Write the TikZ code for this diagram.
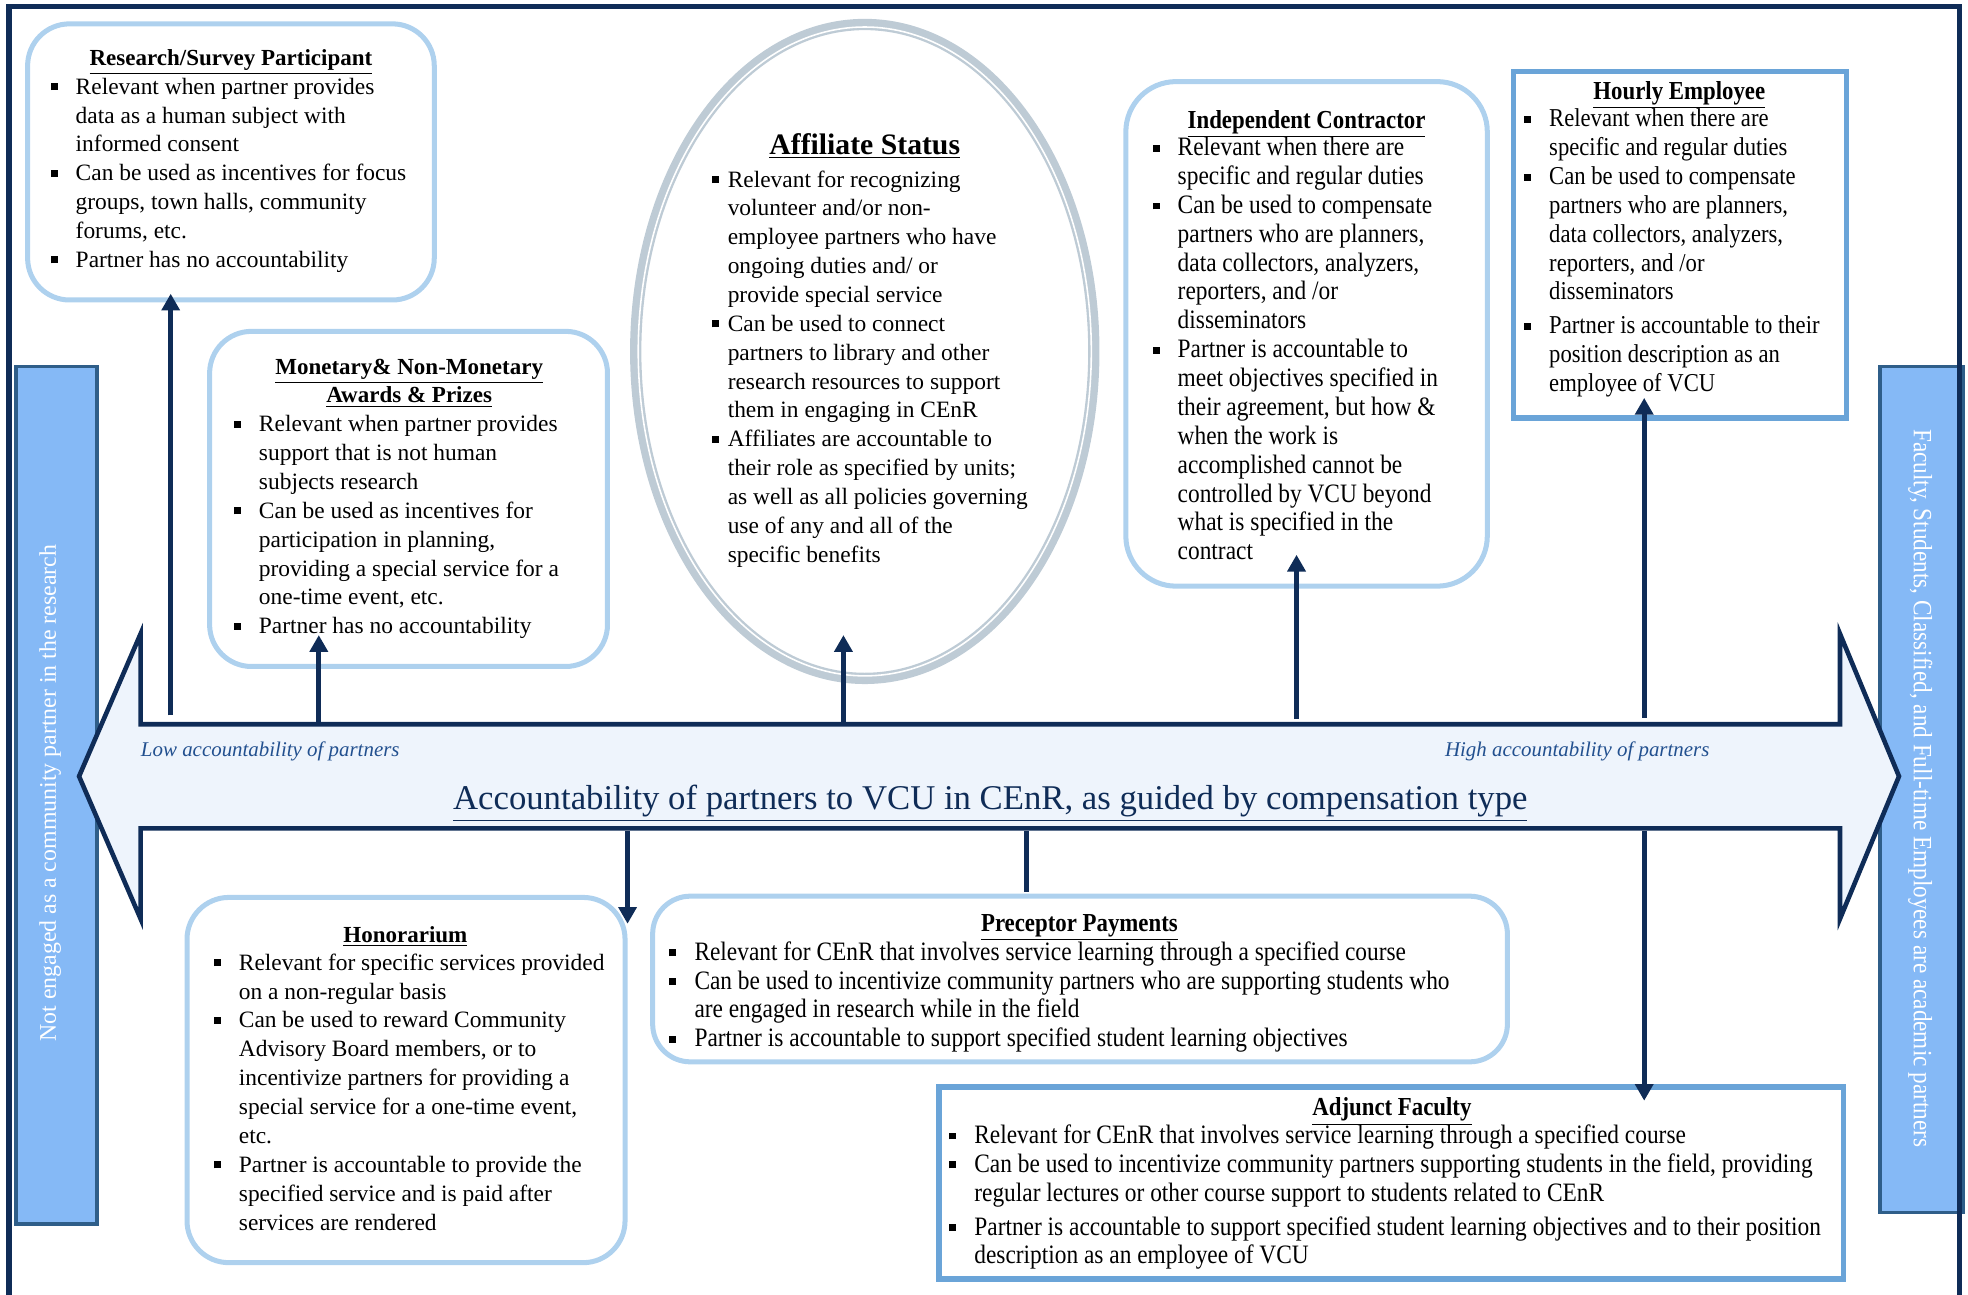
\documentclass[tikz,border=0pt]{standalone}
\usepackage{fontspec}
\setmainfont{Liberation Serif}
\newfontfamily\condfont[FakeStretch=0.88]{Liberation Serif}
\usetikzlibrary{arrows.meta,shapes.geometric}
\definecolor{navy}{HTML}{0F2C57}
\definecolor{boxblue}{HTML}{AED1EE}
\definecolor{sqblue}{HTML}{6AA4D8}
\definecolor{barfill}{HTML}{85B9F6}
\definecolor{barline}{HTML}{2F5E89}
\definecolor{arrowfill}{HTML}{EEF4FC}
\definecolor{ellgray}{HTML}{BECBD5}
\definecolor{labblue}{HTML}{22508F}
\newcommand\bul{\makebox[12pt][l]{\rule[1.9pt]{3.3pt}{3.3pt}}}
\newcommand\ind{\hspace*{12pt}}
\newcommand\bula{\makebox[7.5pt][l]{\rule[1.9pt]{3.3pt}{3.3pt}}}
\newcommand\inda{\hspace*{7.5pt}}
\newcommand\mkbox[6]{\node[#2, minimum width={(#5-#3-4)*0.6pt}, minimum height={(#6-#4-4)*0.6pt}] (#1) at ({(#3+#5)/2},{(#4+#6)/2}) {};}
\tikzset{
 rbox/.style={draw=boxblue, line width=2.4pt, rounded corners=20pt, inner sep=0pt},
 sbox/.style={draw=sqblue, line width=2.6pt, inner sep=0pt},
 bar/.style={draw=barline, line width=1.8pt, fill=barfill, inner sep=0pt},
 body/.style={inner sep=0pt, anchor=base west, font=\fontsize{11.2}{13.8}\selectfont},
 cbody/.style={inner sep=0pt, anchor=base west, font=\condfont\fontsize{12.7}{13.8}\selectfont},
 ttl/.style={inner sep=0pt, anchor=base, font=\bfseries\fontsize{11}{13}\selectfont},
 cttl/.style={inner sep=0pt, anchor=base, font=\condfont\bfseries\fontsize{12.4}{14}\selectfont},
 conn/.style={draw=navy, line width=2.4pt, -{Triangle[width=8.5pt,length=8pt]}},
 plain/.style={draw=navy, line width=2.4pt},
 lab/.style={inner sep=0pt, anchor=base west, text=labblue, font=\itshape\fontsize{10}{12}\selectfont},
}
\begin{document}
\begin{tikzpicture}[x=0.6pt,y=-0.6pt]
\useasboundingbox (0,0) rectangle (1568,1031);
% side bars
\mkbox{lbar}{bar}{11}{290}{79}{977}
\mkbox{rbar}{bar}{1496}{290}{1566}{968}
\node[rotate=90, inner sep=0pt, text=white, font=\fontsize{11.4}{13}\selectfont] (ltxt) at (40,632) {Not engaged as a community partner in the research};
\node[rotate=-90, inner sep=0pt, text=white, font=\condfont\fontsize{12.6}{14}\selectfont] (rtxt) at (1530,628) {Faculty, Students, Classified, and Full-time Employees are academic partners};
% outer frame
\draw[navy, line width=2.6pt] (7,1050) -- (7,5) -- (1561,5) -- (1561,1050);
% big double arrow
\draw[navy, line width=2.2pt, fill=arrowfill, line join=miter] (63,618.5) -- (112,505) -- (112,577) -- (1466,577) -- (1466,505) -- (1513,618.5) -- (1466,732) -- (1466,660) -- (112,660) -- (112,732) -- cycle;
\node[lab] (low) at (112,603) {Low accountability of partners};
\node[lab] (high) at (1151,603) {High accountability of partners};
\node[inner sep=0pt, anchor=base, text=navy, font=\fontsize{16.6}{20}\selectfont] (title) at (789,645) {\underline{Accountability of partners to VCU in CEnR, as guided by compensation type}};

% Research / Survey Participant
\mkbox{res}{rbox}{20}{17}{348}{241}
\node[ttl] (rest) at (184,52) {\underline{Research/Survey Participant}};
\node[body] (resb) at (40,75) {\begin{tabular}[t]{@{}l@{}}
\bul Relevant when partner provides\\
\ind data as a human subject with\\
\ind informed consent\\
\bul Can be used as incentives for focus\\
\ind groups, town halls, community\\
\ind forums, etc.\\
\bul Partner has no accountability
\end{tabular}};

% Monetary
\mkbox{mon}{rbox}{165}{262}{486}{533}
\node[ttl] (mont) at (326,298) {\underline{Monetary\& Non-Monetary}};
\node[ttl] (mont2) at (326,321) {\underline{Awards \& Prizes}};
\node[body] (monb) at (186,344) {\begin{tabular}[t]{@{}l@{}}
\bul Relevant when partner provides\\
\ind support that is not human\\
\ind subjects research\\
\bul Can be used as incentives for\\
\ind participation in planning,\\
\ind providing a special service for a\\
\ind one-time event, etc.\\
\bul Partner has no accountability
\end{tabular}};

% Affiliate Status
\node[ellipse, draw=ellgray, line width=5.4pt, minimum width={365*0.6pt}, minimum height={521*0.6pt}, inner sep=0pt] (aff) at (689,280) {};
\node[ellipse, draw=white, line width=0.75pt, minimum width={361*0.6pt}, minimum height={517*0.6pt}, inner sep=0pt] (affin) at (689,280) {};
\node[inner sep=0pt, anchor=base, font=\bfseries\fontsize{14.2}{16}\selectfont] (afft) at (689,123) {\underline{Affiliate Status}};
\node[body] (affb) at (567,149) {\begin{tabular}[t]{@{}l@{}}
\bula Relevant for recognizing\\
\inda volunteer and/or non-\\
\inda employee partners who have\\
\inda ongoing duties and/ or\\
\inda provide special service\\
\bula Can be used to connect\\
\inda partners to library and other\\
\inda research resources to support\\
\inda them in engaging in CEnR\\
\bula Affiliates are accountable to\\
\inda their role as specified by units;\\
\inda as well as all policies governing\\
\inda use of any and all of the\\
\inda specific benefits
\end{tabular}};

% Independent Contractor
\mkbox{ic}{rbox, rounded corners=24pt}{895}{63}{1187}{469}
\node[cttl] (ict) at (1041,102) {\underline{Independent Contractor}};
\node[cbody] (icb) at (918,124) {\begin{tabular}[t]{@{}l@{}}
\bul Relevant when there are\\
\ind specific and regular duties\\
\bul Can be used to compensate\\
\ind partners who are planners,\\
\ind data collectors, analyzers,\\
\ind reporters, and /or\\
\ind disseminators\\
\bul Partner is accountable to\\
\ind meet objectives specified in\\
\ind their agreement, but how \&\\
\ind when the work is\\
\ind accomplished cannot be\\
\ind controlled by VCU beyond\\
\ind what is specified in the\\
\ind contract
\end{tabular}};

% Hourly Employee
\mkbox{hour}{sbox}{1204}{55}{1473}{335}
\node[cttl] (hourt) at (1338,79) {\underline{Hourly Employee}};
\node[cbody, font=\condfont\fontsize{12.3}{13.8}\selectfont] (hourb) at (1214,101) {\begin{tabular}[t]{@{}l@{}}
\bul Relevant when there are\\
\ind specific and regular duties\\
\bul Can be used to compensate\\
\ind partners who are planners,\\
\ind data collectors, analyzers,\\
\ind reporters, and /or\\
\ind disseminators\\[2.4pt]
\bul Partner is accountable to their\\
\ind position description as an\\
\ind employee of VCU
\end{tabular}};

% Honorarium
\mkbox{hon}{rbox}{147}{713}{500}{1008}
\node[ttl] (hont) at (323,751) {\underline{Honorarium}};
\node[body] (honb) at (170,773) {\begin{tabular}[t]{@{}l@{}}
\bul Relevant for specific services provided\\
\ind on a non-regular basis\\
\bul Can be used to reward Community\\
\ind Advisory Board members, or to\\
\ind incentivize partners for providing a\\
\ind special service for a one-time event,\\
\ind etc.\\
\bul Partner is accountable to provide the\\
\ind specified service and is paid after\\
\ind services are rendered
\end{tabular}};

% Preceptor Payments
\node[cttl] (pret) at (860,742) {\underline{Preceptor Payments}};
\node[cbody] (preb) at (533,765) {\begin{tabular}[t]{@{}l@{}}
\bul Relevant for CEnR that involves service learning through a specified course\\
\bul Can be used to incentivize community partners who are supporting students who\\
\ind are engaged in research while in the field\\
\bul Partner is accountable to support specified student learning objectives
\end{tabular}};
\mkbox{pre}{rbox, rounded corners=18pt}{518}{712}{1203}{848}

% Adjunct Faculty
\mkbox{adj}{sbox}{746}{864}{1471}{1021}
\node[cttl] (adjt) at (1109,889) {\underline{Adjunct Faculty}};
\node[cbody] (adjb) at (756,911) {\begin{tabular}[t]{@{}l@{}}
\bul Relevant for CEnR that involves service learning through a specified course\\
\bul Can be used to incentivize community partners supporting students in the field, providing\\
\ind regular lectures or other course support to students related to CEnR\\[2.4pt]
\bul Partner is accountable to support specified student learning objectives and to their position\\
\ind description as an employee of VCU
\end{tabular}};

% connectors
\coordinate (a1s) at (136,570); \coordinate (a1e) at (136,234);
\coordinate (a2s) at (254,577); \coordinate (a2e) at (254,506);
\coordinate (a3s) at (672,577); \coordinate (a3e) at (672,506);
\coordinate (a4s) at (1033,573); \coordinate (a4e) at (1033,442);
\coordinate (a5s) at (1310,572); \coordinate (a5e) at (1310,317);
\coordinate (a6s) at (500,662); \coordinate (a6e) at (500,736);
\coordinate (a7s) at (818,662); \coordinate (a7e) at (818,711);
\coordinate (a8s) at (1310,662); \coordinate (a8e) at (1310,877);
\draw[conn] (a1s) -- (a1e);
\draw[conn] (a2s) -- (a2e);
\draw[conn] (a3s) -- (a3e);
\draw[conn] (a4s) -- (a4e);
\draw[conn] (a5s) -- (a5e);
\draw[conn] (a6s) -- (a6e);
\draw[plain] (a7s) -- (a7e);
\draw[conn] (a8s) -- (a8e);
\end{tikzpicture}
\end{document}
